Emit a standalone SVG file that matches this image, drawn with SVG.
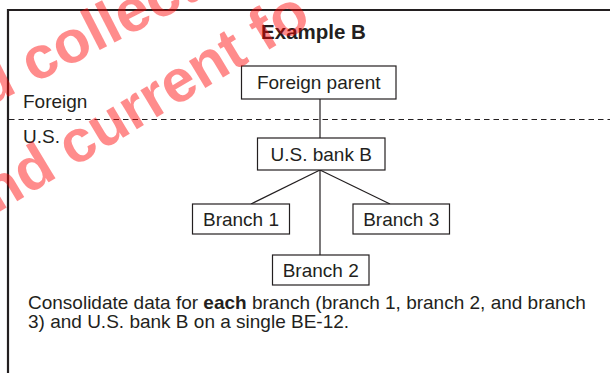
<svg xmlns="http://www.w3.org/2000/svg" width="610" height="373" viewBox="0 0 610 373">
<style>
.t{font-family:"Liberation Sans",Arial,sans-serif;font-size:19px;fill:#231f20}
.c{text-anchor:middle}
.box{fill:#fff;stroke:#231f20;stroke-width:1.2}
.ln{stroke:#231f20;stroke-width:1.2;fill:none}
.wm{font-family:"Liberation Sans",Arial,sans-serif;font-weight:bold;font-size:60px;fill:#ff0000;fill-opacity:0.45}
</style>
<rect x="0" y="0" width="610" height="373" fill="#fff"/>
<g id="frame">
<path d="M8 373 V10 H612" fill="none" stroke="#231f20" stroke-width="2.2"/>
</g>
<text class="t c" x="313.5" y="38.5" style="font-weight:bold;font-size:20.5px">Example B</text>
<line class="ln" x1="9" y1="119.5" x2="610" y2="119.5" stroke-dasharray="5.5,4"/>
<text class="t" x="23" y="108">Foreign</text>
<text class="t" x="23" y="143">U.S.</text>
<g id="connectors">
<line class="ln" x1="320" y1="99" x2="320" y2="138"/>
<line class="ln" x1="320" y1="170" x2="251" y2="204"/>
<line class="ln" x1="320" y1="170" x2="390" y2="204"/>
<line class="ln" x1="320" y1="170" x2="320" y2="255"/>
</g>
<g id="foreign-parent">
<rect class="box" x="241.5" y="66" width="154.5" height="33"/>
<text class="t c" x="318.7" y="89">Foreign parent</text>
</g>
<g id="us-bank-b">
<rect class="box" x="257.5" y="138" width="127.5" height="32"/>
<text class="t c" x="321.2" y="160.5">U.S. bank B</text>
</g>
<g id="branch-1">
<rect class="box" x="192.5" y="204" width="97" height="30"/>
<text class="t c" x="241" y="225.5">Branch 1</text>
</g>
<g id="branch-3">
<rect class="box" x="353" y="204" width="96.5" height="30"/>
<text class="t c" x="401.2" y="225.5">Branch 3</text>
</g>
<g id="branch-2">
<rect class="box" x="272.5" y="255" width="96.5" height="30"/>
<text class="t c" x="320.7" y="276.5">Branch 2</text>
</g>
<text class="t" x="28" y="309">Consolidate data for <tspan font-weight="bold">each</tspan> branch (branch 1, branch 2, and branch</text>
<text class="t" x="28" y="328">3) and U.S. bank B on a single BE-12.</text>
<g id="watermark">
<text class="wm" transform="translate(-14 108) rotate(-27)">d collecti</text>
<text class="wm" transform="translate(-4 214) rotate(-31)">nd current fo</text>
</g>
</svg>
